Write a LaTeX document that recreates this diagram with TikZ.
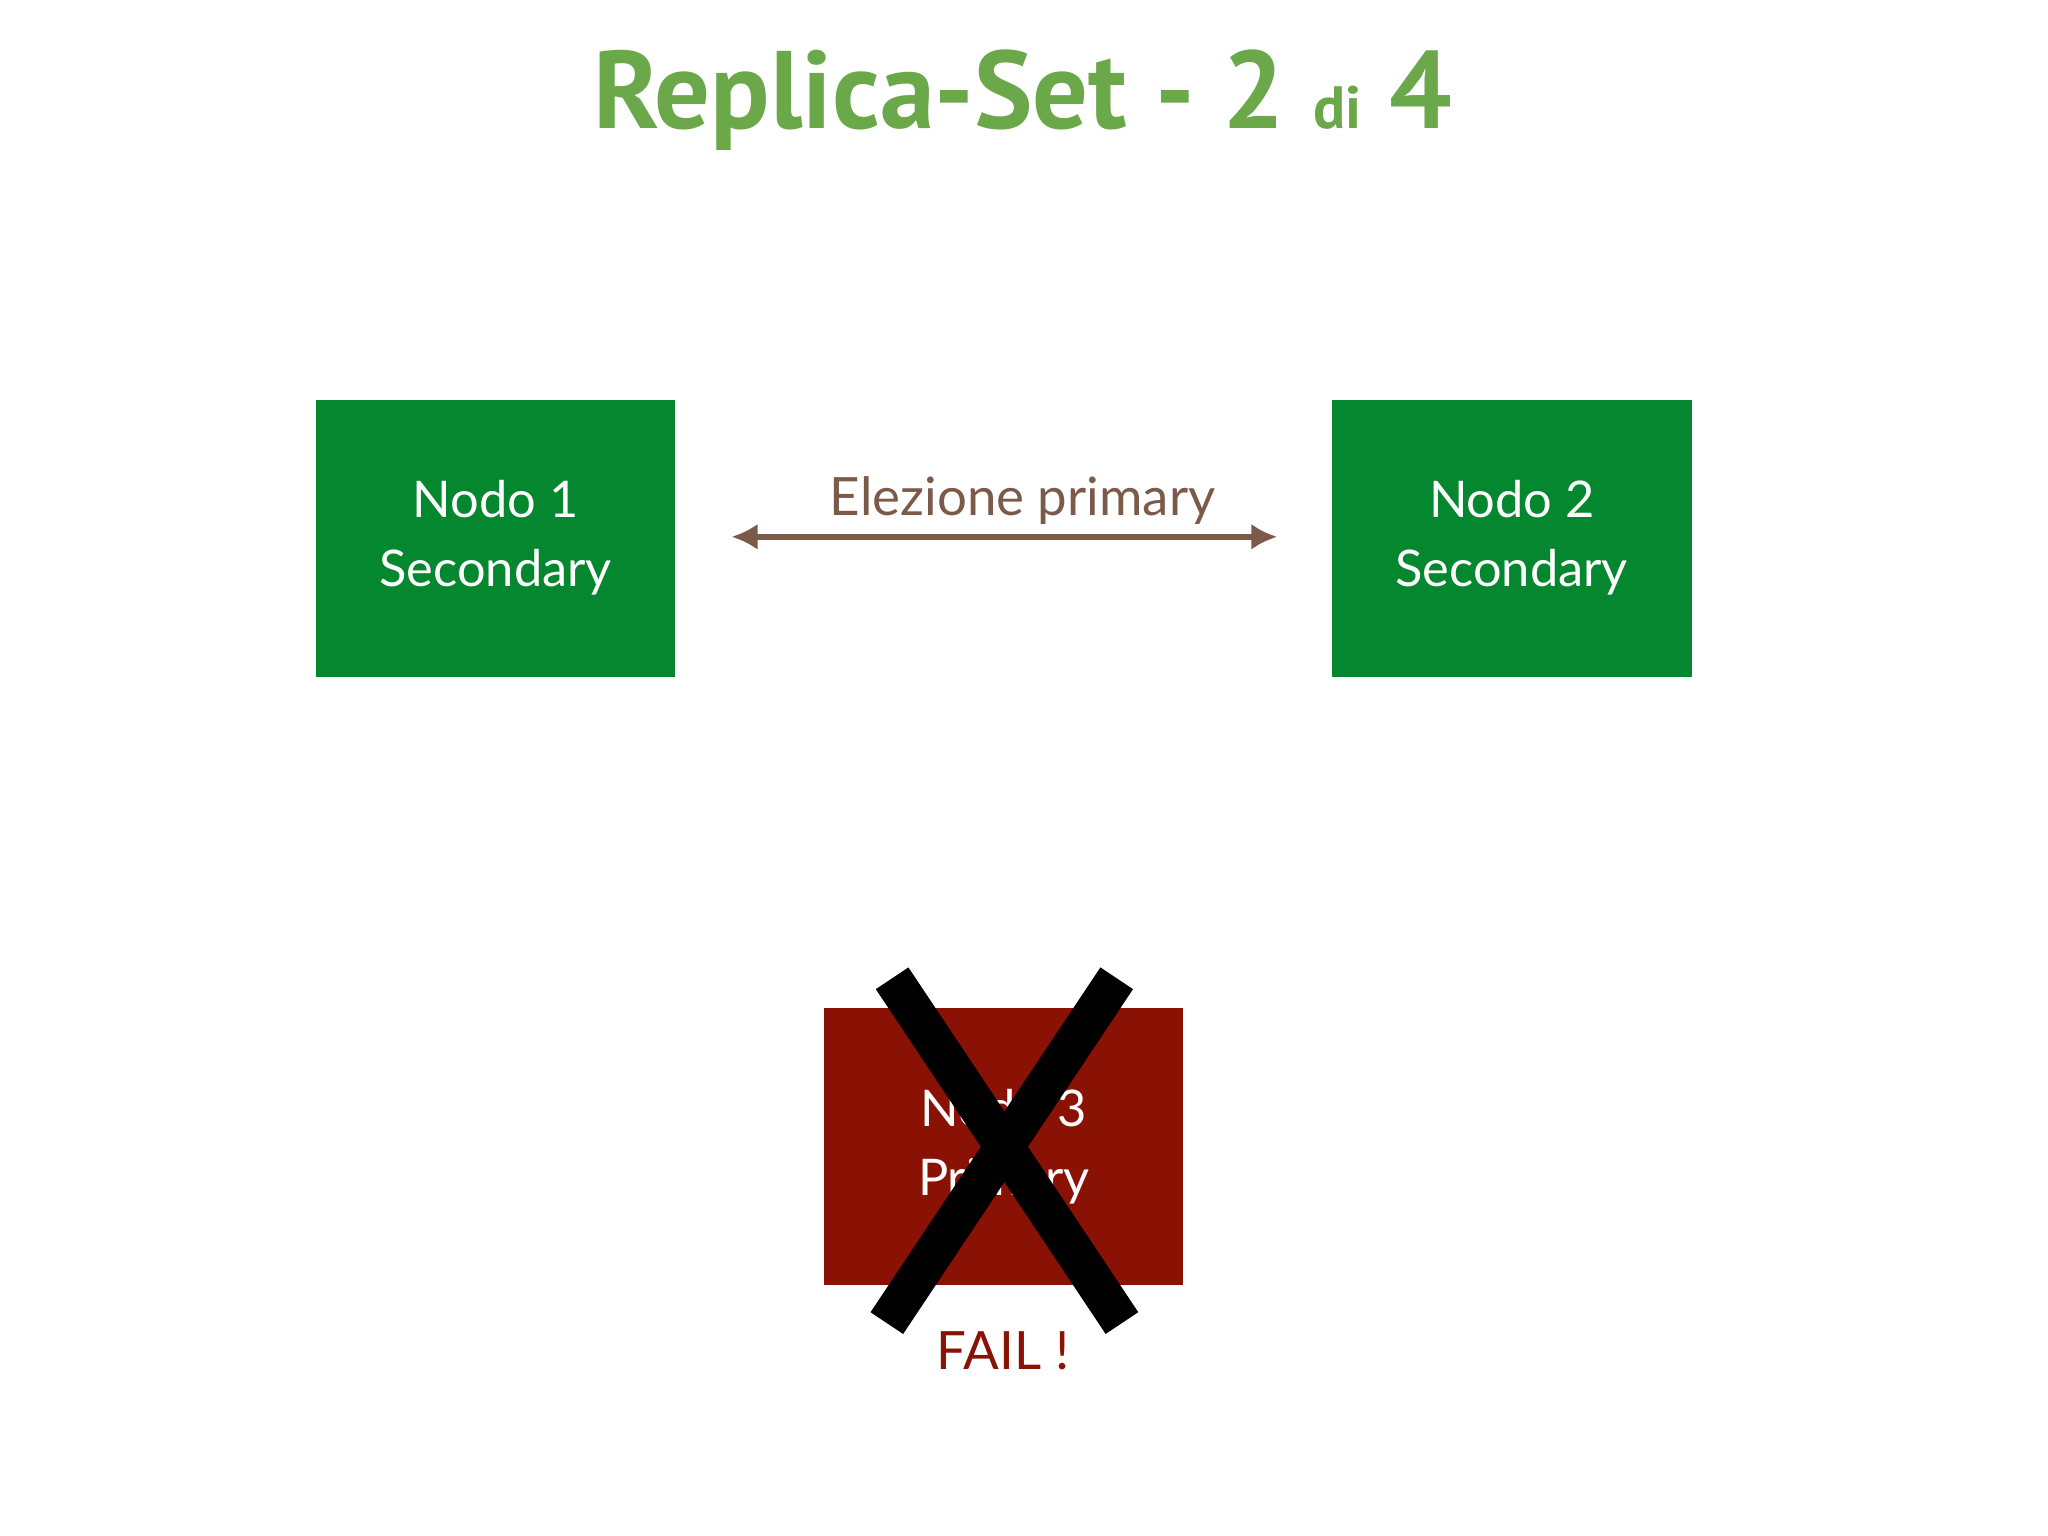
\documentclass[tikz,border=0pt]{standalone}
\usepackage{fontspec}
\usetikzlibrary{arrows.meta}
\setmainfont{Lato}
\newfontfamily\titlefont{PT Sans}
\definecolor{tgreen}{HTML}{6AA84A}
\definecolor{ngreen}{HTML}{05872F}
\definecolor{nred}{HTML}{8A1205}
\definecolor{abrown}{HTML}{7B5A4A}
\begin{document}
\begin{tikzpicture}[x=0.01cm,y=-0.01cm,
  nodebox/.style={draw=none,minimum width=2.75cm,minimum height=2.12cm,text=white,font=\fontsize{11}{15}\selectfont,align=center},
  xline/.style={line width=0.3cm,black}]
\useasboundingbox (0,0) rectangle (1568,1176);
\node[font=\titlefont\bfseries\fontsize{24}{28}\selectfont,text=tgreen] (title) at (783,77) {Replica-Set - 2 {\fontsize{13}{15}\selectfont di} 4};
\node[nodebox,fill=ngreen] (n1) at (379.5,412) {Nodo 1\\Secondary};
\node[nodebox,fill=ngreen] (n2) at (1157.5,412) {Nodo 2\\Secondary};
\node[nodebox,fill=nred] (n3) at (768.5,878) {Nodo 3\\Primary};
\coordinate (a1) at (560,411);
\coordinate (a2) at (978,411);
\draw[abrown,line width=0.05cm,{Latex[length=0.2cm,width=0.2cm]}-{Latex[length=0.2cm,width=0.2cm]}] (a1) -- (a2);
\node[text=abrown,font=\fontsize{11.5}{14}\selectfont] (lab) at (783,383) {Elezione primary};
\coordinate (x1) at (683,749);
\coordinate (x2) at (859,1013);
\coordinate (x3) at (855,749);
\coordinate (x4) at (679,1013);
\draw[xline] (x1) -- (x2);
\draw[xline] (x3) -- (x4);
\node[text=nred,font=\fontsize{11.5}{14}\selectfont] (fail) at (768,1034) {FAIL !};
\end{tikzpicture}
\end{document}
